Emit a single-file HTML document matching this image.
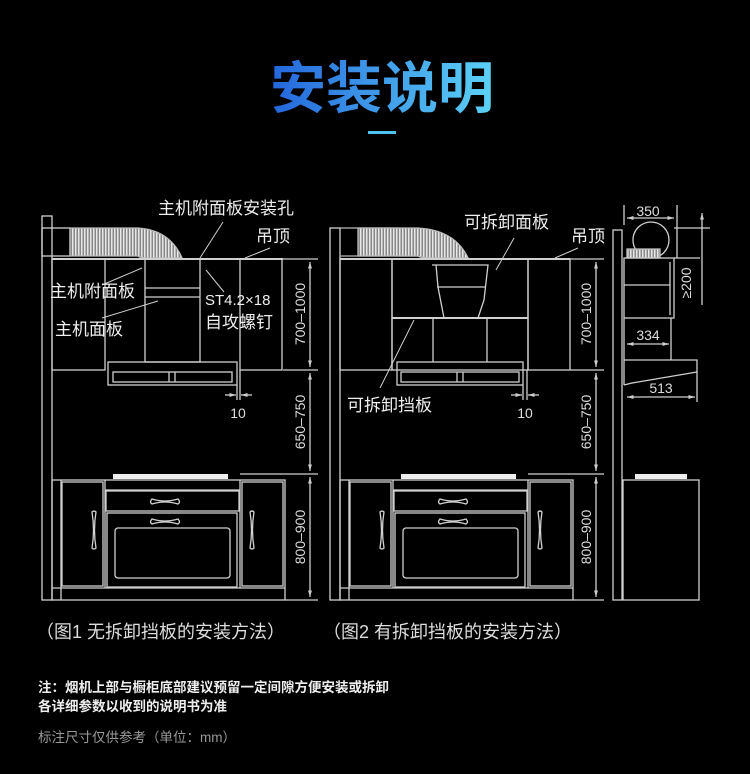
<!DOCTYPE html>
<html><head><meta charset="utf-8"><style>
html,body{margin:0;padding:0;background:#000;}
body{width:750px;height:774px;overflow:hidden;position:relative;font-family:"Liberation Sans","Noto Sans CJK SC",sans-serif;}
svg{position:absolute;left:0;top:0}
</style></head><body>
<svg width="750" height="774" viewBox="0 0 750 774" xmlns="http://www.w3.org/2000/svg">
<defs>
<linearGradient id="tg" x1="0" x2="1" y1="0" y2="0"><stop offset="0" stop-color="#2466dc"/><stop offset="1" stop-color="#5cd2f6"/></linearGradient>
<pattern id="rib" width="3" height="10" patternUnits="userSpaceOnUse"><rect width="3" height="10" fill="#888"/><rect width="1.5" height="10" fill="#e6e6e6"/></pattern>
<marker id="ar" viewBox="0 0 10 10" refX="10" refY="5" markerWidth="5" markerHeight="5" orient="auto-start-reverse"><path d="M0,2 L10,5 L0,8z" fill="#ccc"/></marker>
</defs>
<text x="382" y="108" text-anchor="middle" font-size="56" font-weight="bold" fill="url(#tg)" font-family="Liberation Sans,Noto Sans CJK SC,sans-serif">安装说明</text>
<rect x="368" y="131" width="28" height="3" fill="#4fc3f0"/>

<g fill="none" stroke="#d0d0d0" stroke-width="1.3">
<!-- FIG1 -->
<rect x="42" y="216" width="10" height="384"/>
<rect x="42" y="228" width="28" height="28"/>
<path d="M70,228 H138 Q170,230 182,258 H150 Q140,258 138,256 H70z" fill="url(#rib)" stroke="#bbb"/>
<line x1="52" y1="259" x2="283" y2="259" stroke-width="2"/>
<rect x="52" y="259" width="53" height="111"/>
<rect x="145" y="259" width="55" height="103"/>
<line x1="145" y1="288" x2="200" y2="288"/><line x1="145" y1="297" x2="200" y2="297"/>
<rect x="240" y="259" width="42" height="111"/>
<rect x="108" y="362" width="129" height="23"/>
<rect x="113" y="372" width="119" height="10"/>
<line x1="169" y1="372" x2="169" y2="382"/><line x1="175" y1="372" x2="175" y2="382"/>
<line x1="283" y1="259" x2="318" y2="259"/><line x1="283" y1="370" x2="318" y2="370"/><line x1="240" y1="474" x2="318" y2="474"/><line x1="285" y1="600" x2="318" y2="600"/>
<line x1="310" y1="262" x2="310" y2="367" marker-start="url(#ar)" marker-end="url(#ar)"/>
<line x1="310" y1="373" x2="310" y2="471" marker-start="url(#ar)" marker-end="url(#ar)"/>
<line x1="310" y1="477" x2="310" y2="597" marker-start="url(#ar)" marker-end="url(#ar)"/>
<line x1="237" y1="385" x2="237" y2="400"/><line x1="240" y1="370" x2="240" y2="400"/>
<line x1="225" y1="395" x2="236" y2="395" marker-end="url(#ar)"/><line x1="252" y1="395" x2="241" y2="395" marker-end="url(#ar)"/>
<line x1="200" y1="258" x2="223" y2="222" stroke-width="1"/>
<line x1="245" y1="258" x2="270" y2="248" stroke-width="1"/>
<line x1="102" y1="285" x2="142" y2="268" stroke-width="1"/>
<line x1="102" y1="318" x2="158" y2="301" stroke-width="1"/>
<line x1="206" y1="270" x2="224" y2="292" stroke-width="1"/>

<!-- FIG2 upper -->
<rect x="330" y="228" width="10" height="372"/>
<path d="M340,228 H398 Q455,230 468,258 H436 Q420,258 420,256 H340" stroke="#bbb"/>
<path d="M358,228 H418 Q455,230 468,258 H436 Q420,258 418,256 H358z" fill="url(#rib)" stroke="#bbb"/>
<line x1="340" y1="259" x2="570" y2="259" stroke-width="2"/>
<rect x="340" y="259" width="52" height="111"/>
<rect x="392" y="259" width="136" height="59"/>
<line x1="392" y1="318" x2="528" y2="318" stroke-width="2"/>
<path d="M432,265 H488 L484,300 L478,318 M436,265 L438,287 L444,318 M437,287 H486"/>
<line x1="433" y1="318" x2="433" y2="362"/><line x1="487" y1="318" x2="487" y2="362"/>
<rect x="392" y="318" width="136" height="52"/>
<rect x="528" y="259" width="42" height="111"/>
<rect x="397" y="362" width="126" height="23"/>
<rect x="401" y="372" width="118" height="10"/>
<line x1="457" y1="372" x2="457" y2="382"/><line x1="463" y1="372" x2="463" y2="382"/>
<line x1="570" y1="259" x2="604" y2="259"/><line x1="570" y1="370" x2="604" y2="370"/><line x1="528" y1="474" x2="604" y2="474"/><line x1="573" y1="600" x2="604" y2="600"/>
<line x1="596" y1="262" x2="596" y2="367" marker-start="url(#ar)" marker-end="url(#ar)"/>
<line x1="596" y1="373" x2="596" y2="471" marker-start="url(#ar)" marker-end="url(#ar)"/>
<line x1="596" y1="477" x2="596" y2="597" marker-start="url(#ar)" marker-end="url(#ar)"/>
<line x1="523" y1="385" x2="523" y2="400"/><line x1="527" y1="370" x2="527" y2="400"/>
<line x1="511" y1="395" x2="522" y2="395" marker-end="url(#ar)"/><line x1="539" y1="395" x2="528" y2="395" marker-end="url(#ar)"/>
<line x1="496" y1="270" x2="514" y2="238" stroke-width="1"/>
<line x1="555" y1="258" x2="578" y2="248" stroke-width="1"/>
<line x1="414" y1="320" x2="380" y2="388" stroke-width="1"/>

<!-- FIG3 -->
<rect x="613" y="230" width="9" height="370"/>
<circle cx="651" cy="240" r="18"/>
<rect x="627" y="249" width="33" height="9" fill="url(#rib)" stroke="#bbb"/>
<rect x="624" y="258" width="50" height="60"/>
<line x1="624" y1="285" x2="670" y2="285"/><line x1="670" y1="262" x2="670" y2="315"/>
<line x1="624" y1="318" x2="624" y2="385"/><line x1="671" y1="318" x2="671" y2="360"/>
<path d="M624,360 H697 V372 L632,383 L624,385"/>
<line x1="624" y1="205" x2="624" y2="225"/><line x1="677" y1="205" x2="677" y2="258"/>
<line x1="627" y1="218" x2="674" y2="218" marker-start="url(#ar)" marker-end="url(#ar)"/>
<line x1="674" y1="228" x2="710" y2="228"/><line x1="674" y1="258" x2="700" y2="258"/>
<line x1="702" y1="213" x2="702" y2="305" marker-start="url(#ar)"/>
<line x1="627" y1="344" x2="669" y2="344" marker-start="url(#ar)" marker-end="url(#ar)"/>
<line x1="627" y1="397" x2="695" y2="397" marker-start="url(#ar)" marker-end="url(#ar)"/>
<line x1="697" y1="372" x2="697" y2="402"/>
<rect x="623" y="480" width="76" height="120"/>
</g>
<rect x="635" y="474" width="52" height="5" fill="#eee"/>

<g id="base" fill="none" stroke="#d0d0d0" stroke-width="1.3">
<rect x="52" y="480" width="233" height="120"/>
<line x1="52" y1="588" x2="285" y2="588"/>
<line x1="61" y1="480" x2="61" y2="600"/>
<rect x="62" y="482" width="41" height="104"/>
<rect x="242" y="482" width="41" height="104"/>
<line x1="105" y1="480" x2="105" y2="588"/><line x1="240" y1="480" x2="240" y2="588"/>
<line x1="105" y1="490" x2="240" y2="490"/>
<rect x="106" y="491" width="133" height="20"/>
<rect x="107" y="513" width="130" height="74"/>
<rect x="115" y="528" width="115" height="50" rx="3"/>
<path d="M152,499 Q165,503 178,499 Q181,502 178,504 Q165,500 152,504 Q149,502 152,499z"/>
<path d="M152,519 Q165,523 178,519 Q181,522 178,524 Q165,520 152,524 Q149,522 152,519z"/>
<path d="M92,512 Q95,530 92,548 Q94,550 96,548 Q93,530 96,512 Q94,510 92,512z"/>
<path d="M250,512 Q253,530 250,548 Q252,550 254,548 Q251,530 254,512 Q252,510 250,512z"/>
</g>
<rect x="113" y="474" width="115" height="5" fill="#eee"/>
<use href="#base" transform="translate(288,0)"/>
<rect x="401" y="474" width="115" height="5" fill="#eee"/>

<g fill="#eee" font-family="Liberation Sans,Noto Sans CJK SC,sans-serif" font-size="17">
<text x="158" y="214">主机附面板安装孔</text>
<text x="256" y="242">吊顶</text>
<text x="50" y="297">主机附面板</text>
<text x="55" y="335">主机面板</text>
<text x="205" y="305" font-size="15">ST4.2×18</text>
<text x="205" y="328">自攻螺钉</text>
<text x="464" y="228">可拆卸面板</text>
<text x="571" y="242">吊顶</text>
<text x="347" y="411">可拆卸挡板</text>
</g>
<g fill="#ddd" font-size="14" font-family="Liberation Sans,sans-serif">
<text x="238" y="418" text-anchor="middle">10</text>
<text x="525" y="418" text-anchor="middle">10</text>
<text x="648" y="216" text-anchor="middle">350</text>
<text x="648" y="340" text-anchor="middle">334</text>
<text x="661" y="393" text-anchor="middle">513</text>
<text transform="translate(691,283) rotate(-90)" text-anchor="middle">≥200</text>
<text transform="translate(305,314) rotate(-90)" text-anchor="middle">700–1000</text>
<text transform="translate(305,422) rotate(-90)" text-anchor="middle">650–750</text>
<text transform="translate(305,537) rotate(-90)" text-anchor="middle">800–900</text>
<text transform="translate(591,314) rotate(-90)" text-anchor="middle">700–1000</text>
<text transform="translate(591,422) rotate(-90)" text-anchor="middle">650–750</text>
<text transform="translate(591,537) rotate(-90)" text-anchor="middle">800–900</text>
</g>
<g font-family="Liberation Sans,Noto Sans CJK SC,sans-serif">
<text x="36" y="638" font-size="18" fill="#ddd">（图1 无拆卸挡板的安装方法）</text>
<text x="323" y="638" font-size="18" fill="#ddd">（图2 有拆卸挡板的安装方法）</text>
<text x="38" y="692" font-size="13.5" fill="#eee" font-weight="bold">注：烟机上部与橱柜底部建议预留一定间隙方便安装或拆卸</text>
<text x="38" y="711" font-size="13.5" fill="#eee" font-weight="bold">各详细参数以收到的说明书为准</text>
<text x="38" y="742" font-size="13.5" fill="#999">标注尺寸仅供参考（单位：mm）</text>
</g>
</svg>
</body></html>
